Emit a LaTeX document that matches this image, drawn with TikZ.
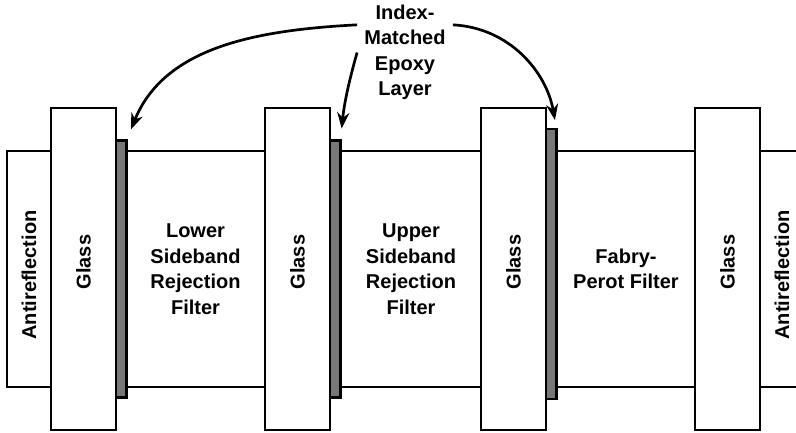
\documentclass[tikz,border=0pt]{standalone}
\usepackage{fontspec}
\setmainfont{Liberation Sans}
\usetikzlibrary{arrows.meta, positioning}
\definecolor{epoxygray}{gray}{0.47}

\begin{document}
\begin{tikzpicture}[x=1pt, y=1pt, line width=2.7pt,
        font=\fontsize{20}{25.5}\selectfont\bfseries,
        layer/.style={draw, fill=white, inner sep=0pt, outer sep=0pt, align=center},
        glass/.style={layer, minimum width=65pt, minimum height=322pt},
        filter/.style={layer, minimum height=236pt},
        epoxy/.style={draw, fill=epoxygray, inner sep=0pt, outer sep=0pt, minimum width=10.5pt},
        pointer/.style={-{Stealth[length=16pt, width=12pt]}, line width=2.7pt}]
    \useasboundingbox (0,0) rectangle (796,432);
    \clip (0,0) rectangle (796,432);
    % coatings and filters, left to right
    \node[filter, minimum width=44pt] (arl) at (29,163) {\rotatebox{90}{Antireflection\hspace{12pt}}};
    \node[filter, minimum width=139pt] (lsb) at (195.5,163) {Lower\\Sideband\\Rejection\\Filter};
    \node[filter, minimum width=140pt] (usb) at (411,163) {Upper\\Sideband\\Rejection\\Filter};
    \node[filter, minimum width=138pt] (fpf) at (626,163) {Fabry-\\Perot Filter};
    \node[filter, minimum width=44pt] (arr) at (782,163) {\rotatebox{90}{Antireflection\hspace{12pt}}};
    % glass plates
    \foreach \x/\n in {83.5/g1, 297.5/g2, 513.5/g3, 727.5/g4}
        \node[glass] (\n) at (\x,163) {\rotatebox{90}{\hspace{14pt}Glass}};
    % epoxy between plate and filter
    \node[epoxy, minimum height=257pt, right=0pt of g1] (ep1) {};
    \node[epoxy, minimum height=257pt, right=0pt of g2] (ep2) {};
    \node[epoxy, minimum height=270pt, right=0pt of g3, yshift=5pt] (ep3) {};
    % label and pointers
    \node[align=center, inner sep=6pt] (lbl) at (405,379.5) {Index-\\Matched\\Epoxy\\Layer};
    \draw[pointer, shorten >=12pt] (lbl.150) to[out=183, in=68] (ep1.north east);
    \draw[pointer, shorten >=12pt] (lbl.west) to[bend right=5] (ep2.north east);
    \draw[pointer, shorten >=9pt] (lbl.30) to[out=-3, in=100] (ep3.north east);
\end{tikzpicture}
\end{document}
